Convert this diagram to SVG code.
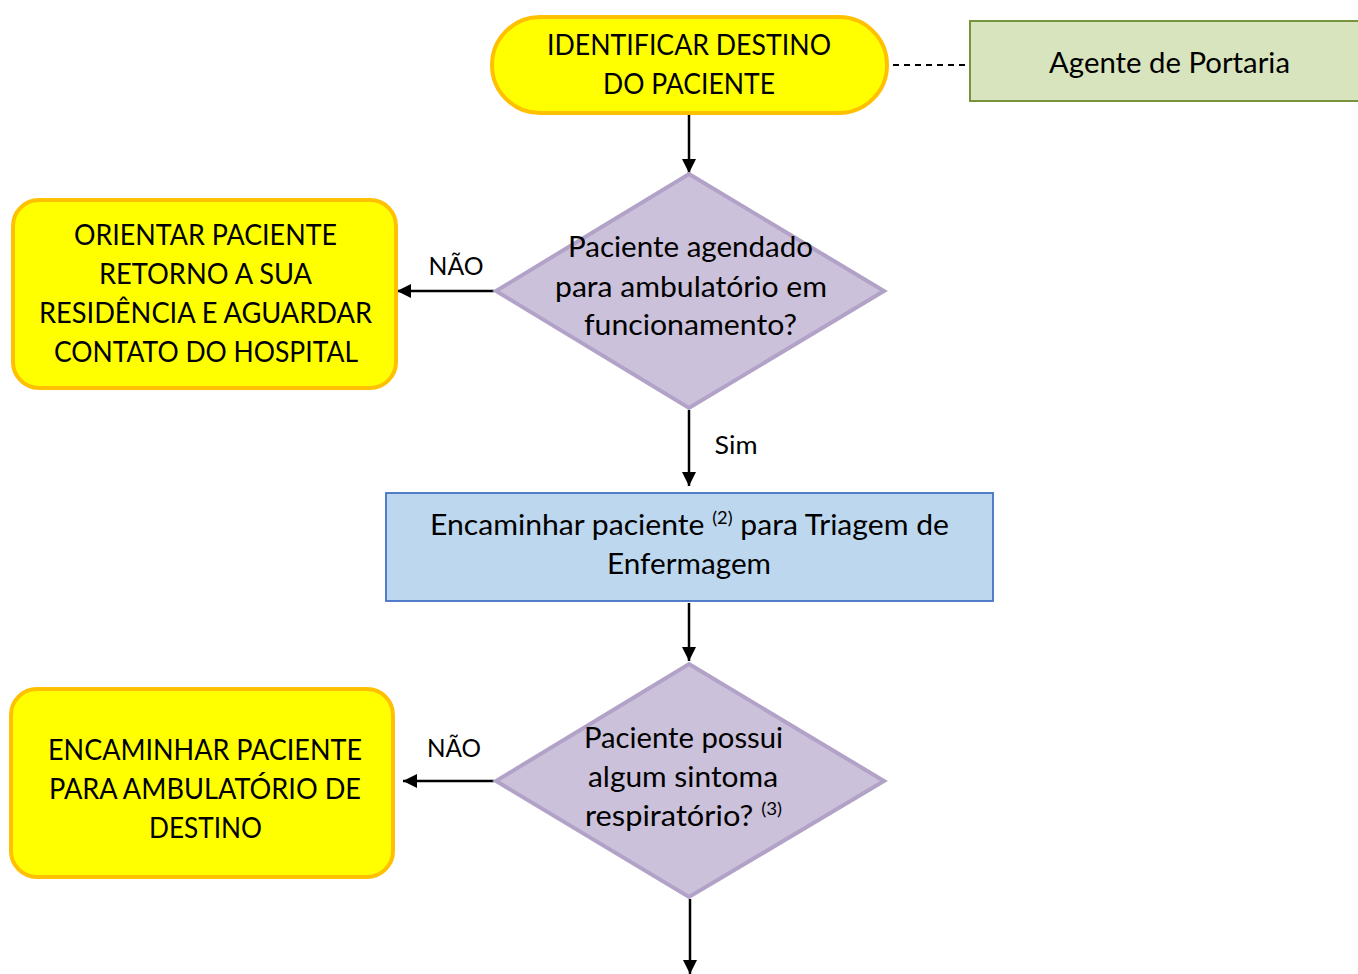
<svg xmlns="http://www.w3.org/2000/svg" width="1358" height="974" viewBox="0 0 1358 974">
<style>
.t{font-family:Lato,"Noto Sans","Liberation Sans",sans-serif;font-size:28px;fill:#000;text-anchor:middle}
.sup{font-size:17px}
.yel{fill:#FFFF00;stroke:#FFC000;stroke-width:4}
.dia{fill:#CCC1DA;stroke:#B3A2C7;stroke-width:4}
.con{stroke:#000;stroke-width:2.5;fill:none}
</style>
<defs>
<marker id="ah" markerUnits="userSpaceOnUse" markerWidth="16" markerHeight="14" refX="14" refY="7" orient="auto">
<path d="M0,0 L14,7 L0,14 Z" fill="#000"/>
</marker>
</defs>
<rect width="1358" height="974" fill="#fff"/>
<g id="connectors">
<line class="con" x1="689" y1="115" x2="689" y2="173" marker-end="url(#ah)"/>
<line x1="893" y1="65" x2="968" y2="65" stroke="#000" stroke-width="1.8" stroke-dasharray="6,5"/>
<line class="con" x1="494" y1="291" x2="397" y2="291" marker-end="url(#ah)"/>
<line class="con" x1="689" y1="410" x2="689" y2="486" marker-end="url(#ah)"/>
<line class="con" x1="689" y1="603" x2="689" y2="661" marker-end="url(#ah)"/>
<line class="con" x1="494" y1="781" x2="403" y2="781" marker-end="url(#ah)"/>
<line class="con" x1="690" y1="899" x2="690" y2="974" marker-end="url(#ah)"/>
<text class="t" x="456" y="275" font-size="25" style="font-size:25px" textLength="55" lengthAdjust="spacingAndGlyphs">NÃO</text>
<text class="t" x="736" y="454" style="font-size:25px" textLength="43" lengthAdjust="spacingAndGlyphs">Sim</text>
<text class="t" x="454" y="757" style="font-size:25px" textLength="54" lengthAdjust="spacingAndGlyphs">NÃO</text>
</g>
<g id="identificar">
<rect class="yel" x="492" y="17" width="395" height="96" rx="48" ry="48"/>
<text class="t" x="689" y="55" textLength="284" lengthAdjust="spacingAndGlyphs">IDENTIFICAR DESTINO</text>
<text class="t" x="689" y="94" textLength="172" lengthAdjust="spacingAndGlyphs">DO PACIENTE</text>
</g>
<g id="agente">
<rect x="970" y="21" width="395" height="80" fill="#D7E4BD" stroke="#77933C" stroke-width="2"/>
<text class="t" x="1169.5" y="73" textLength="241" lengthAdjust="spacingAndGlyphs">Agente de Portaria</text>
</g>
<g id="decisao1">
<polygon class="dia" points="689,174 884,291 689,408 496,291"/>
<text class="t" x="690.5" y="257" textLength="245" lengthAdjust="spacingAndGlyphs">Paciente agendado</text>
<text class="t" x="691" y="297" textLength="272" lengthAdjust="spacingAndGlyphs">para ambulatório em</text>
<text class="t" x="690.5" y="335" textLength="213" lengthAdjust="spacingAndGlyphs">funcionamento?</text>
</g>
<g id="orientar">
<rect class="yel" x="13" y="200" width="383" height="188" rx="26" ry="26"/>
<text class="t" x="205.5" y="245" textLength="263" lengthAdjust="spacingAndGlyphs">ORIENTAR PACIENTE</text>
<text class="t" x="205.5" y="284" textLength="213" lengthAdjust="spacingAndGlyphs">RETORNO A SUA</text>
<text class="t" x="205.5" y="323" textLength="333" lengthAdjust="spacingAndGlyphs">RESIDÊNCIA E AGUARDAR</text>
<text class="t" x="206" y="362" textLength="304" lengthAdjust="spacingAndGlyphs">CONTATO DO HOSPITAL</text>
</g>
<g id="triagem">
<rect x="386" y="493" width="607" height="108" fill="#BDD7EE" stroke="#4472C4" stroke-width="1.8"/>
<text class="t" x="689.5" y="535" textLength="519" lengthAdjust="spacingAndGlyphs">Encaminhar paciente <tspan class="sup" dy="-11">(2)</tspan><tspan dy="11"> para Triagem de</tspan></text>
<text class="t" x="689" y="574" textLength="164" lengthAdjust="spacingAndGlyphs">Enfermagem</text>
</g>
<g id="decisao2">
<polygon class="dia" points="689,664 884,781 689,897 496,781"/>
<text class="t" x="683.5" y="748" textLength="199" lengthAdjust="spacingAndGlyphs">Paciente possui</text>
<text class="t" x="683" y="787" textLength="190" lengthAdjust="spacingAndGlyphs">algum sintoma</text>
<text class="t" x="683.5" y="826" textLength="197" lengthAdjust="spacingAndGlyphs">respiratório? <tspan class="sup" dy="-11">(3)</tspan></text>
</g>
<g id="encaminhar">
<rect class="yel" x="11" y="689" width="382" height="188" rx="26" ry="26"/>
<text class="t" x="205" y="760" textLength="314" lengthAdjust="spacingAndGlyphs">ENCAMINHAR PACIENTE</text>
<text class="t" x="205" y="799" textLength="312" lengthAdjust="spacingAndGlyphs">PARA AMBULATÓRIO DE</text>
<text class="t" x="205.5" y="838" textLength="113" lengthAdjust="spacingAndGlyphs">DESTINO</text>
</g>
</svg>
